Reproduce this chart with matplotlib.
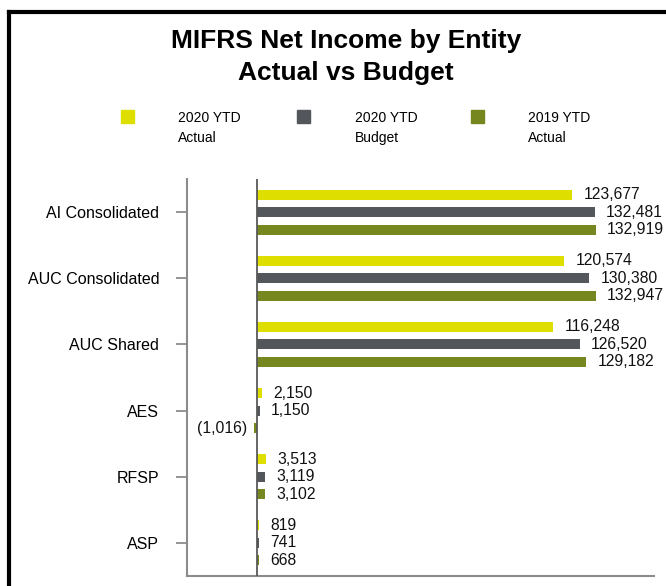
import matplotlib
matplotlib.use("Agg")
import matplotlib.pyplot as plt
from matplotlib.lines import Line2D
import numpy as np

plt.rcParams['font.family'] = ['Liberation Sans', 'DejaVu Sans']

entities = ['AI Consolidated', 'AUC Consolidated', 'AUC Shared', 'AES', 'RFSP', 'ASP']
actual_2020 = [123677, 120574, 116248, 2150, 3513, 819]
budget_2020 = [132481, 130380, 126520, 1150, 3119, 741]
actual_2019 = [132919, 132947, 129182, -1016, 3102, 668]
series_names = ['2020 YTD\nActual', '2020 YTD\nBudget', '2019 YTD\nActual']
colors = ['#DEDE00', '#53565A', '#77871F']

W, H = 666, 586
fig = plt.figure(figsize=(W / 100, H / 100), dpi=100)
ax = fig.add_axes([187 / W, (H - 576) / H, (654 - 187) / W, (576 - 179) / H])

y = np.arange(len(entities))
offs = [-0.265, 0.0, 0.265]
for k, vals in enumerate([actual_2020, budget_2020, actual_2019]):
    ax.barh(y + offs[k], vals, height=0.15, color=colors[k], zorder=2)
    for yi, v in zip(y + offs[k], vals):
        if v < 0:
            ax.annotate('({:,})'.format(-v), (v, yi), xytext=(-5, 0), textcoords='offset points',
                        ha='right', va='center', fontsize=11.3, color='#111111')
        else:
            ax.annotate('{:,}'.format(v), (v, yi), xytext=(8, 0), textcoords='offset points',
                        ha='left', va='center', fontsize=11.3, color='#111111')

ax.axvline(0, color='#595959', lw=1.3, zorder=3)
ax.set_xlim(-27450, 155700)
ax.set_ylim(5.5, -0.5)
ax.set_yticks(y)
ax.set_yticklabels(entities, fontsize=11.5)
ax.set_xticks([])
ax.tick_params(axis='y', length=8, width=1.3, color='#8C8C8C', pad=12)
for s in ['top', 'right']:
    ax.spines[s].set_visible(False)
for s in ['left', 'bottom']:
    ax.spines[s].set_color('#8C8C8C')
    ax.spines[s].set_linewidth(1.5)

# title
fig.text(346 / W, 1 - 41 / H, 'MIFRS Net Income by Entity', ha='center', va='center',
         fontsize=19, fontweight='bold')
fig.text(346 / W, 1 - 73 / H, 'Actual vs Budget', ha='center', va='center',
         fontsize=19, fontweight='bold')

# legend
sq_x = [121, 297, 471]
txt_x = [178, 355, 528]
for k in range(3):
    fig.add_artist(plt.Rectangle((sq_x[k] / W, 1 - 123 / H), 13 / W, 13 / H,
                                 color=colors[k], transform=fig.transFigure))
    l1, l2 = series_names[k].split('\n')
    fig.text(txt_x[k] / W, 1 - 118 / H, l1, ha='left', va='center', fontsize=10)
    fig.text(txt_x[k] / W, 1 - 138 / H, l2, ha='left', va='center', fontsize=10)

# outer frame
fig.add_artist(Line2D([9 / W, 1.01], [1 - 12 / H, 1 - 12 / H], color='black', lw=3,
                      transform=fig.transFigure, solid_capstyle='projecting'))
fig.add_artist(Line2D([9 / W, 9 / W], [-0.01, 1 - 12 / H], color='black', lw=3,
                      transform=fig.transFigure, solid_capstyle='projecting'))

fig.savefig('out.png', dpi=100)
